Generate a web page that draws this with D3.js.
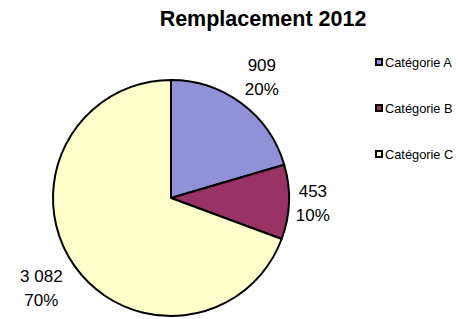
<!DOCTYPE html>
<html>
<head>
<meta charset="utf-8">
<script src="https://cdn.jsdelivr.net/npm/d3@7"></script>
<style>
body { margin:0; background:#fff; }
text { font-family: "Liberation Sans", Arial, sans-serif; fill:#000; }
</style>
</head>
<body>
<svg id="svg" width="459" height="319"></svg>
<script>
var categories = ["Catégorie A", "Catégorie B", "Catégorie C"],
    values     = [909, 453, 3082],
    valueLabels= ["909", "453", "3 082"],
    pctLabels  = ["20%", "10%", "70%"],
    colors     = ["#9191d8", "#993366", "#ffffcc"];

var svg = d3.select("#svg");

var cx = 171, cy = 198, r = 118;

svg.append("text")
    .attr("x", 263).attr("y", 26)
    .attr("text-anchor", "middle")
    .attr("font-size", 21.5).attr("font-weight", "bold")
    .text("Remplacement 2012");

var pie = d3.pie().sort(null).value(d => d)(values);
var arc = d3.arc().innerRadius(0).outerRadius(r);

var g = svg.append("g").attr("transform", "translate(" + cx + "," + cy + ")");
g.selectAll("path").data(pie).enter().append("path")
    .attr("d", arc)
    .attr("fill", (d, i) => colors[i])
    .attr("stroke", "#000").attr("stroke-width", 2)
    .attr("stroke-linejoin", "round");

// labels just outside each slice, box pushed out along the mid angle
var fs = 17, pad = 9, hh = 20;
var labs = g.selectAll(".lab").data(pie).enter().append("g").attr("class", "lab")
    .attr("transform", function(d, i) {
        var a = (d.startAngle + d.endAngle) / 2,
            s = Math.sin(a), c = -Math.cos(a),
            hw = Math.max(valueLabels[i].length, pctLabels[i].length) * fs * 0.28,
            dist = r + pad + Math.abs(s) * hw + Math.abs(c) * hh;
        return "translate(" + (s * dist) + "," + (c * dist) + ")";
    });
labs.append("text").attr("text-anchor", "middle").attr("font-size", fs).attr("y", -6)
    .text((d, i) => valueLabels[i]);
labs.append("text").attr("text-anchor", "middle").attr("font-size", fs).attr("y", 18)
    .text((d, i) => pctLabels[i]);

// legend
var leg = svg.selectAll(".leg").data(categories).enter().append("g").attr("class", "leg")
    .attr("transform", (d, i) => "translate(375," + (62 + i * 46) + ")");
leg.append("rect").attr("x", 1).attr("y", -3).attr("width", 6).attr("height", 6)
    .attr("fill", (d, i) => colors[i]).attr("stroke", "#000").attr("stroke-width", 2);
leg.append("text").attr("x", 10).attr("y", 4.5).attr("font-size", 12.8).text(d => d);
</script>
</body>
</html>
